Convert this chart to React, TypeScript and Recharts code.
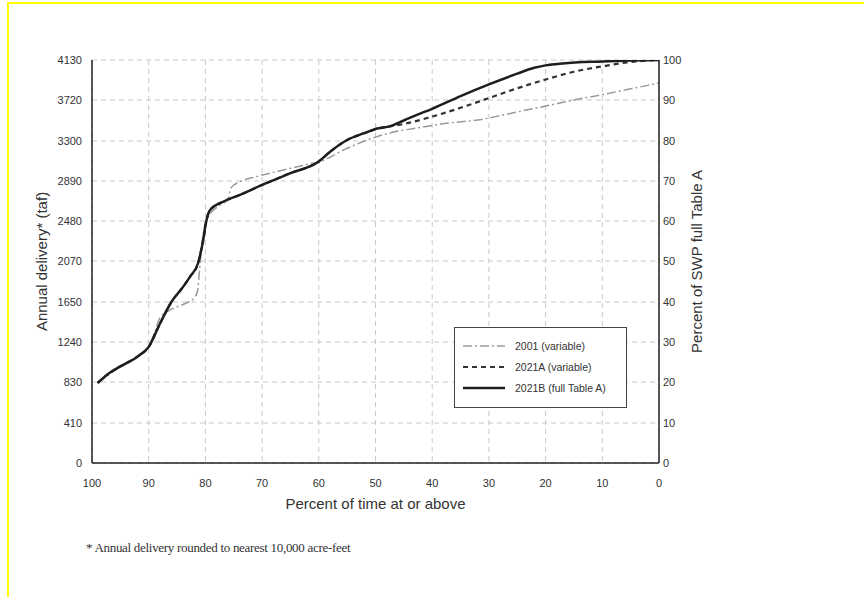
import { LineChart, Line, XAxis, YAxis, CartesianGrid, Legend, Label } from "recharts";

// percent of time at or above (x), annual delivery in taf (y)
const pct2001 = [99, 95, 90, 89, 88, 86.5, 85, 83, 82, 81.4, 81, 80.5, 79.8, 77.5, 76, 75.5, 74, 71, 67.5, 65, 62, 60, 55, 50, 47, 43, 37, 32, 28, 24, 19, 15, 10, 5, 2, 0];
const val2001 = [820, 990, 1200, 1330, 1490, 1560, 1600, 1650, 1690, 1760, 2000, 2300, 2490, 2640, 2700, 2820, 2880, 2935, 2985, 3020, 3060, 3085, 3225, 3340, 3390, 3430, 3485, 3515, 3560, 3610, 3670, 3720, 3775, 3835, 3870, 3895];

const pct2021A = [99, 97, 95, 92, 90, 88, 86, 84, 82.7, 81.3, 80.5, 79.8, 79.2, 76.8, 74, 70, 65, 60, 58, 55, 52, 49.5, 47.5, 45, 40, 35, 30, 25, 20, 15, 10, 5, 0];
const val2021A = [820, 920, 990, 1090, 1190, 1430, 1650, 1800, 1910, 2047, 2250, 2490, 2590, 2680, 2745, 2850, 2970, 3090, 3190, 3310, 3380, 3430, 3450, 3475, 3550, 3640, 3740, 3840, 3930, 4010, 4065, 4110, 4130];

const pct2021B = [99, 97, 95, 92, 90, 88, 86, 84, 82.7, 81.3, 80.5, 79.8, 79.2, 76.8, 74, 70, 65, 60, 58, 55, 52, 49.5, 47.5, 45, 43, 40, 35, 30, 25, 22, 20, 17, 10, 5, 0];
const val2021B = [820, 920, 990, 1090, 1190, 1430, 1650, 1800, 1910, 2047, 2250, 2490, 2590, 2680, 2745, 2850, 2970, 3090, 3190, 3310, 3380, 3430, 3450, 3510, 3560, 3630, 3760, 3880, 3990, 4050, 4075, 4095, 4115, 4125, 4130];

const timeTicks = [100, 90, 80, 70, 60, 50, 40, 30, 20, 10, 0];
const deliveryTicks = [0, 410, 830, 1240, 1650, 2070, 2480, 2890, 3300, 3720, 4130];
const percentTicks = [0, 10, 20, 30, 40, 50, 60, 70, 80, 90, 100];

const toRows = (p: number[], v: number[]) => p.map((x, i) => ({ p: x, v: v[i] }));

const series = [
  { name: "2001 (variable)", data: toRows(pct2001, val2001), stroke: "#9a9a9a", width: 1.5, dash: "9 3 2 3" },
  { name: "2021A (variable)", data: toRows(pct2021A, val2021A), stroke: "#333", width: 2.2, dash: "5 4" },
  { name: "2021B (full Table A)", data: toRows(pct2021B, val2021B), stroke: "#1e1e1e", width: 2.5, dash: undefined },
];

const font = "'Liberation Sans', Arial, sans-serif";
const tick = { fontSize: 11, fill: "#333", fontFamily: font };

function LegendBox() {
  return (
    <div
      style={{
        width: 173,
        height: 81,
        border: "1.5px solid #444",
        background: "#fff",
        boxSizing: "border-box",
        padding: "7px 0 0 8px",
        fontFamily: font,
        fontSize: 10.5,
        color: "#333",
      }}
    >
      {series.map((s) => (
        <div key={s.name} style={{ display: "flex", alignItems: "center", height: 21 }}>
          <svg width={44} height={8} style={{ marginRight: 8 }}>
            <line x1={0} y1={4} x2={42} y2={4} stroke={s.stroke} strokeWidth={s.width} strokeDasharray={s.dash} />
          </svg>
          <span>{s.name}</span>
        </div>
      ))}
    </div>
  );
}

export default function App() {
  return (
    <div style={{ position: "absolute", left: 0, top: 0, width: 864, height: 597, background: "#fff", overflow: "hidden" }}>
      <div
        style={{
          position: "absolute",
          left: 7,
          top: 2,
          width: 870,
          height: 600,
          borderTop: "2px solid #ffff00",
          borderLeft: "2px solid #ffff00",
        }}
      />
      <div style={{ position: "absolute", left: 0, top: 0 }}>
        <LineChart width={864} height={597} margin={{ top: 60, right: 145, bottom: 94, left: 0 }}>
          <CartesianGrid yAxisId="left" stroke="#c8c8c8" strokeDasharray="5 4" horizontal vertical />
          <XAxis
            dataKey="p"
            type="number"
            domain={[0, 100]}
            reversed
            ticks={timeTicks}
            interval={0}
            height={40}
            tickSize={0}
            tickMargin={16}
            tick={tick}
            axisLine={{ stroke: "#222", strokeWidth: 1.5 }}
            allowDataOverflow
          >
            <Label value="Percent of time at or above" position="insideBottom" offset={-6} style={{ fontSize: 15, fill: "#333", fontFamily: font }} />
          </XAxis>
          <YAxis
            yAxisId="left"
            type="number"
            domain={[0, 4130]}
            ticks={deliveryTicks}
            interval={0}
            width={92}
            tickSize={0}
            tickMargin={10}
            tick={tick}
            axisLine={{ stroke: "#222", strokeWidth: 1.5 }}
            allowDataOverflow
          >
            <Label value="Annual delivery* (taf)" angle={-90} position="center" dx={-4} style={{ textAnchor: "middle", fontSize: 15, fill: "#333", fontFamily: font }} />
          </YAxis>
          <YAxis
            yAxisId="right"
            orientation="right"
            type="number"
            domain={[0, 100]}
            ticks={percentTicks}
            interval={0}
            width={60}
            tickSize={0}
            tickMargin={4}
            tick={tick}
            axisLine={{ stroke: "#222", strokeWidth: 1.5 }}
            allowDataOverflow
          >
            <Label value="Percent of SWP full Table A" angle={-90} position="center" dx={8} style={{ textAnchor: "middle", fontSize: 15, fill: "#333", fontFamily: font }} />
          </YAxis>
          {series.map((s) => (
            <Line
              key={s.name}
              yAxisId="left"
              data={s.data}
              dataKey="v"
              name={s.name}
              type="monotone"
              stroke={s.stroke}
              strokeWidth={s.width}
              strokeDasharray={s.dash}
              dot={false}
              isAnimationActive={false}
            />
          ))}
          <Legend
            layout="vertical"
            verticalAlign="middle"
            align="center"
            wrapperStyle={{ position: "absolute", left: 454, top: 327, width: 173 }}
            content={() => <LegendBox />}
          />
        </LineChart>
      </div>
      <div
        style={{
          position: "absolute",
          left: 86,
          top: 540,
          fontFamily: "'Liberation Serif', 'Times New Roman', serif",
          fontSize: 13,
          color: "#333",
          letterSpacing: -0.3,
        }}
      >
        * Annual delivery rounded to nearest 10,000 acre-feet
      </div>
    </div>
  );
}
